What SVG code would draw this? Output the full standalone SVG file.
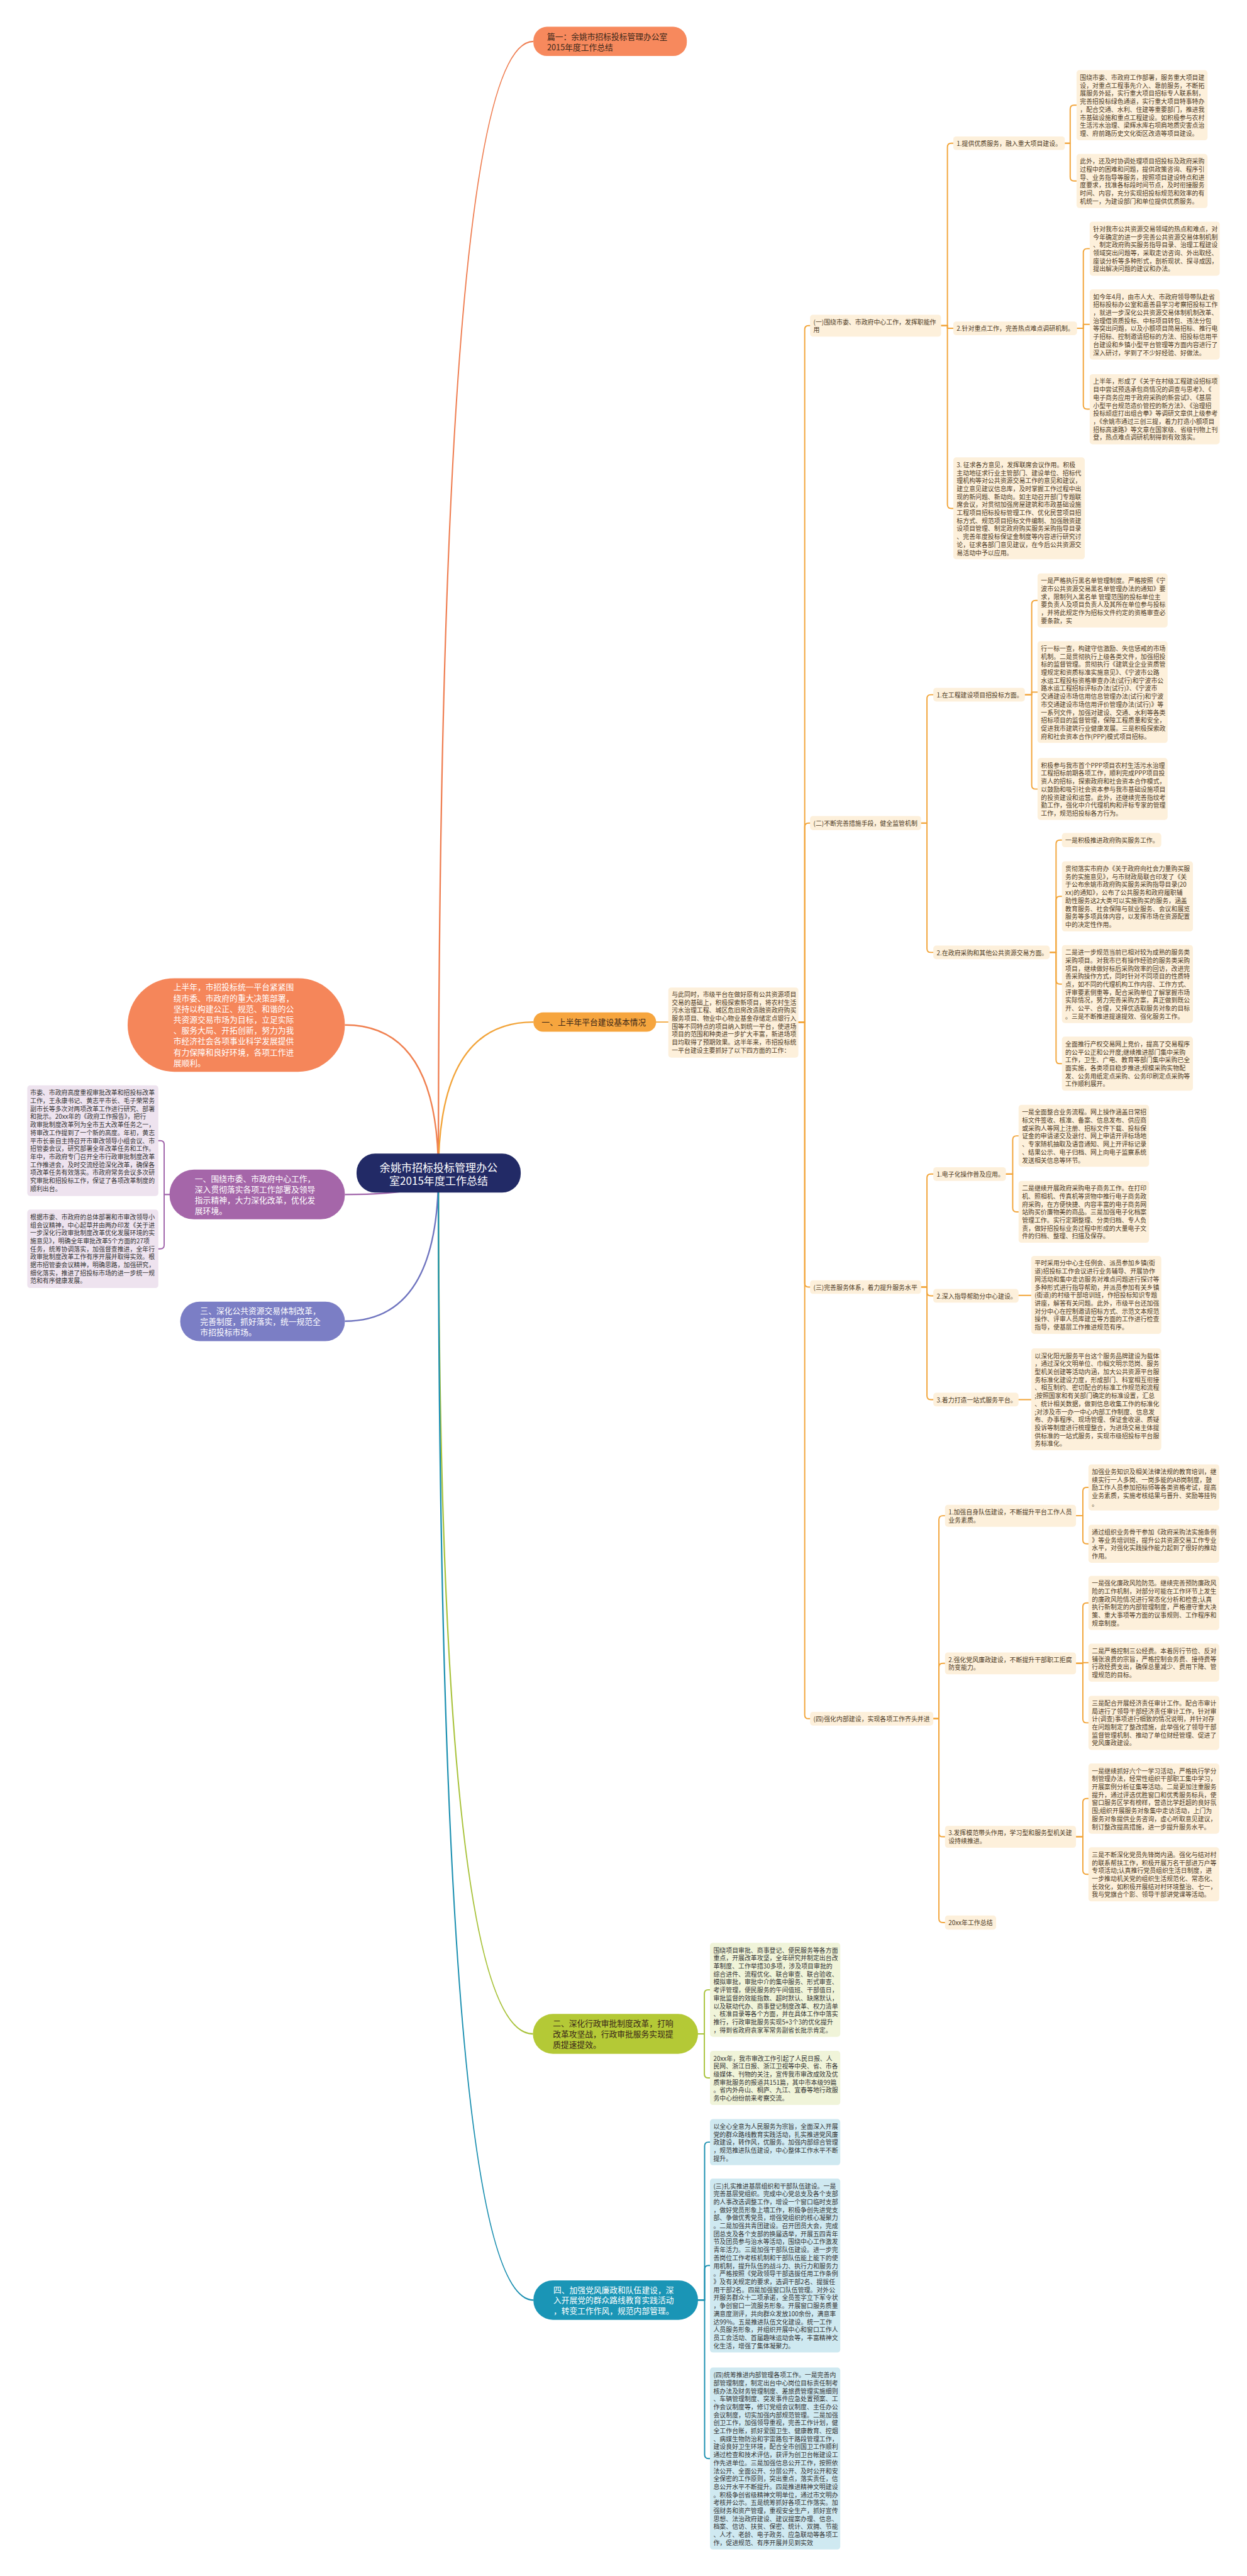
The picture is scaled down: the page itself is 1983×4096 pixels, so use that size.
<svg xmlns="http://www.w3.org/2000/svg" width="1983" height="4096" viewBox="0 0 1983 4096">
<style>
text{font-family:"Noto Sans CJK SC","Noto Sans",sans-serif}
.s{font-size:12.8px;fill:#4d3a24}
.d{font-size:12.8px;fill:#333}
.m{font-size:16.5px;fill:#3a2718}
.w{font-size:16.5px;fill:#fff}
.b{fill:#fdf0db}
.k{fill:#f0f4d9}
.l{fill:#cfe9f1}
.p{fill:#eee3ef}
.c{fill:none;stroke-width:2.5;stroke-linecap:round;stroke-linejoin:round}
.o{stroke:#f2a53a}
.cm{fill:none;stroke-width:3}
</style>
<rect width="1983" height="4096" fill="#fff"/>
<g transform="scale(0.77461)">
<g id="connectors">
<path class="cm" stroke="#ef7d50" d="M900 2408Q900 85 1095 85"/>
<path class="cm" stroke="#f2a43a" d="M900 2408Q900 2098 1095 2098"/>
<path class="cm" stroke="#f08050" d="M900 2408Q900 2104 708 2104"/>
<path class="cm" stroke="#a064aa" d="M900 2408Q900 2452 708 2452"/>
<path class="cm" stroke="#6f74bf" d="M900 2408Q900 2712 708 2712"/>
<path class="cm" stroke="#a8c23a" d="M900 2408Q900 4175 1094 4175"/>
<path class="cm" stroke="#1a8fb0" d="M900 2408Q900 4721.5 1095 4721.5"/>
<g class="c o">
<path d="M1347 2098H1372"/>
<path d="M1639 2098.5H1652V676.5Q1652 668.5 1660 668.5H1663"/>
<path d="M1639 2098.5H1652V1697.5Q1652 1689.5 1660 1689.5H1663"/>
<path d="M1639 2098.5H1652V2634Q1652 2642 1660 2642H1663"/>
<path d="M1639 2098.5H1652V3520Q1652 3528 1660 3528H1663"/>
<path d="M1932 668.5H1945V302Q1945 294 1953 294H1957"/>
<path d="M1932 668.5H1945V674H1957"/>
<path d="M1932 668.5H1945V1035.65Q1945 1043.65 1953 1043.65H1957"/>
<path d="M2186 294H2197V223.85Q2197 215.85 2205 215.85H2210"/>
<path d="M2186 294H2197V363.45Q2197 371.45 2205 371.45H2210"/>
<path d="M2211 674H2224V518.45Q2224 510.45 2232 510.45H2237"/>
<path d="M2211 674H2224V665.85H2237"/>
<path d="M2211 674H2224V831.85Q2224 839.85 2232 839.85H2237"/>
<path d="M1891 1689.5H1903V1434Q1903 1426 1911 1426H1916"/>
<path d="M1891 1689.5H1903V1947Q1903 1955 1911 1955H1916"/>
<path d="M2104 1426H2118V1240.45Q2118 1232.45 2126 1232.45H2130"/>
<path d="M2104 1426H2118V1420.65H2130"/>
<path d="M2104 1426H2118V1611.65Q2118 1619.65 2126 1619.65H2130"/>
<path d="M2155 1955H2168V1732.5Q2168 1724.5 2176 1724.5H2180"/>
<path d="M2155 1955H2168V1847.85Q2168 1839.85 2176 1839.85H2180"/>
<path d="M2155 1955H2168V2012.05Q2168 2020.05 2176 2020.05H2180"/>
<path d="M2155 1955H2168V2175.45Q2168 2183.45 2176 2183.45H2180"/>
<path d="M1891 2642H1903V2418Q1903 2410 1911 2410H1916"/>
<path d="M1891 2642H1903V2652Q1903 2660 1911 2660H1916"/>
<path d="M1891 2642H1903V2865Q1903 2873 1911 2873H1916"/>
<path d="M2065 2410H2079V2339.65Q2079 2331.65 2087 2331.65H2091"/>
<path d="M2065 2410H2079V2479.65Q2079 2487.65 2087 2487.65H2091"/>
<path d="M2091 2659H2117"/>
<path d="M2091 2873H2117"/>
<path d="M1916 3528H1927.5V3119.4Q1927.5 3111.4 1935.5 3111.4H1940"/>
<path d="M1916 3528H1927.5V3422.4Q1927.5 3414.4 1935.5 3414.4H1940"/>
<path d="M1916 3528H1927.5V3762.4Q1927.5 3770.4 1935.5 3770.4H1940"/>
<path d="M1916 3528H1927.5V3938.5Q1927.5 3946.5 1935.5 3946.5H1940"/>
<path d="M2209 3111.4H2223V3061.25Q2223 3053.25 2231 3053.25H2234.5"/>
<path d="M2209 3111.4H2223V3161.05Q2223 3169.05 2231 3169.05H2234.5"/>
<path d="M2209 3414.4H2223V3298.45Q2223 3290.45 2231 3290.45H2234.5"/>
<path d="M2209 3414.4H2223V3413.05H2234.5"/>
<path d="M2209 3414.4H2223V3528.45Q2223 3536.45 2231 3536.45H2234.5"/>
<path d="M2209 3770.4H2223V3699.85Q2223 3691.85 2231 3691.85H2234.5"/>
<path d="M2209 3770.4H2223V3839.45Q2223 3847.45 2231 3847.45H2234.5"/>
</g>
<g class="c" stroke="#a8c23a">
<path d="M1433 4175H1446V4092.45Q1446 4084.45 1454 4084.45H1457.5"/>
<path d="M1433 4175H1446V4257.45Q1446 4265.45 1454 4265.45H1457.5"/>
</g>
<g class="c" stroke="#1a8fb0">
<path d="M1433 4721.5H1446.5V4405.25Q1446.5 4397.25 1454.5 4397.25H1457.5"/>
<path d="M1433 4721.5H1446.5V4658.45Q1446.5 4650.45 1454.5 4650.45H1457.5"/>
<path d="M1433 4721.5H1446.5V5038.65Q1446.5 5046.65 1454.5 5046.65H1457.5"/>
</g>
<g class="c" stroke="#a064aa">
<path d="M348 2452H337V2349.4Q337 2341.4 329 2341.4H325"/>
<path d="M348 2452H337V2555.5Q337 2563.5 329 2563.5H325"/>
</g>
</g>

<g id="center"><rect x="732" y="2368" width="337" height="80" rx="38" fill="#222a66"/><text x="900.5" y="2405" text-anchor="middle" style="font-size:22px;fill:#fff">余姚市招标投标管理办公<tspan x="900.5" dy="27.3">室2015年度工作总结</tspan></text></g>

<g id="n-pian1"><rect x="1095" y="55" width="315" height="60" rx="28" fill="#f7895d"/><text class="m" x="1123" y="81.3">篇一：余姚市招标投标管理办公室<tspan x="1123" dy="22">2015年度工作总结</tspan></text></g>

<g id="n-left-intro"><rect x="262" y="2008" width="446" height="192" rx="96" fill="#f5865a"/><text class="w" x="356" y="2032.6">上半年，市招投标统一平台紧紧围<tspan x="356" dy="22.2">绕市委、市政府的重大决策部署，</tspan><tspan x="356" dy="22.2">坚持以构建公正、规范、和谐的公</tspan><tspan x="356" dy="22.2">共资源交易市场为目标，立足实际</tspan><tspan x="356" dy="22.2">、服务大局、开拓创新，努力为我</tspan><tspan x="356" dy="22.2">市经济社会各项事业科学发展提供</tspan><tspan x="356" dy="22.2">有力保障和良好环境，各项工作进</tspan><tspan x="356" dy="22.2">展顺利。</tspan></text></g>

<g id="n-purple"><rect x="348" y="2401" width="360" height="102" rx="50" fill="#a566a9"/><text class="w" x="400" y="2425.3">一、围绕市委、市政府中心工作，<tspan x="400" dy="22.2">深入贯彻落实各项工作部署及领导</tspan><tspan x="400" dy="22.2">指示精神，大力深化改革，优化发</tspan><tspan x="400" dy="22.2">展环境。</tspan></text></g>

<g id="n-p1"><rect class="p" x="56" y="2228" width="269" height="227" rx="6"/><text class="d" x="62" y="2248">市委、市政府高度重视审批改革和招投标改革<tspan x="62" dy="16.4">工作，王永康书记、黄志平市长、毛子荣常务</tspan><tspan x="62" dy="16.4">副市长等多次对两项改革工作进行研究、部署</tspan><tspan x="62" dy="16.4">和批示。20xx年的《政府工作报告》，把行</tspan><tspan x="62" dy="16.4">政审批制度改革列为全市五大改革任务之一，</tspan><tspan x="62" dy="16.4">将审改工作提到了一个新的高度。年初，黄志</tspan><tspan x="62" dy="16.4">平市长亲自主持召开市审改领导小组会议、市</tspan><tspan x="62" dy="16.4">招管委会议，研究部署全年改革任务和工作。</tspan><tspan x="62" dy="16.4">年中，市政府专门召开全市行政审批制度改革</tspan><tspan x="62" dy="16.4">工作推进会，及时交流经验深化改革，确保各</tspan><tspan x="62" dy="16.4">项改革任务有效落实。市政府常务会议多次研</tspan><tspan x="62" dy="16.4">究审批和招投标工作，保证了各项改革制度的</tspan><tspan x="62" dy="16.4">顺利出台。</tspan></text></g>

<g id="n-p2"><rect class="p" x="56" y="2483" width="269" height="161" rx="6"/><text class="d" x="62" y="2503">根据市委、市政府的总体部署和市审改领导小<tspan x="62" dy="16.4">组会议精神，中心起草并由两办印发《关于进</tspan><tspan x="62" dy="16.4">一步深化行政审批制度改革优化发展环境的实</tspan><tspan x="62" dy="16.4">施意见》，明确全年审批改革5个方面的27项</tspan><tspan x="62" dy="16.4">任务，统筹协调落实，加强督查推进，全年行</tspan><tspan x="62" dy="16.4">政审批制度改革工作有序开展并取得实效。根</tspan><tspan x="62" dy="16.4">据市招管委会议精神，明确思路，加强研究，</tspan><tspan x="62" dy="16.4">细化落实，推进了招投标市场的进一步统一规</tspan><tspan x="62" dy="16.4">范和有序健康发展。</tspan></text></g>

<g id="n-san"><rect x="370" y="2672" width="338" height="81" rx="40" fill="#7b7ec5"/><text class="w" x="411" y="2697">三、深化公共资源交易体制改革，<tspan x="411" dy="22">完善制度，抓好落实，统一规范全</tspan><tspan x="411" dy="22">市招投标市场。</tspan></text></g>

<g id="n-yi-platform"><rect x="1095" y="2078" width="252" height="40" rx="20" fill="#f6a53e"/><text class="m" x="1112" y="2104.3">一、上半年平台建设基本情况</text></g>

<g id="n-tongshi"><rect class="b" x="1372" y="2027" width="267" height="144" rx="6"/><text class="s" x="1379" y="2046">与此同时，市级平台在做好原有公共资源项目<tspan x="1379" dy="16.4">交易的基础上，积极探索新项目，将农村生活</tspan><tspan x="1379" dy="16.4">污水治理工程、城区危旧房改造融资政府购买</tspan><tspan x="1379" dy="16.4">服务项目、物业中心物业基金存储定点银行入</tspan><tspan x="1379" dy="16.4">围等不同特点的项目纳入到统一平台，使进场</tspan><tspan x="1379" dy="16.4">项目的范围和种类进一步扩大丰富，新进场项</tspan><tspan x="1379" dy="16.4">目均取得了预期效果。这半年来，市招投标统</tspan><tspan x="1379" dy="16.4">一平台建设主要抓好了以下四方面的工作：</tspan></text></g>

<g id="n-sub1"><rect class="b" x="1663" y="646" width="269" height="45" rx="6"/><text class="s" x="1670" y="665.5">(一)围绕市委、市政府中心工作，发挥职能作<tspan x="1670" dy="16.4">用</tspan></text></g>
<g id="n-1-1"><rect class="b" x="1957" y="280" width="229" height="28" rx="6"/><text class="s" x="1964" y="299.5">1.提供优质服务，融入重大项目建设。</text></g>
<g id="n-a1"><rect class="b" x="2210" y="144" width="269" height="144" rx="6"/><text class="s" x="2217" y="164">围绕市委、市政府工作部署，服务重大项目建<tspan x="2217" dy="16.4">设，对重点工程事先介入、靠前服务，不断拓</tspan><tspan x="2217" dy="16.4">展服务外延，实行重大项目招标专人联系制，</tspan><tspan x="2217" dy="16.4">完善招投标绿色通道，实行重大项目特事特办</tspan><tspan x="2217" dy="16.4">，配合交通、水利、住建等重要部门，推进我</tspan><tspan x="2217" dy="16.4">市基础设施和重点工程建设。如积极参与农村</tspan><tspan x="2217" dy="16.4">生活污水治理、梁辉水库右坝肩地质灾害点治</tspan><tspan x="2217" dy="16.4">理、府前路历史文化街区改造等项目建设。</tspan></text></g>
<g id="n-a2"><rect class="b" x="2210" y="316" width="269" height="111" rx="6"/><text class="s" x="2217" y="336">此外，还及时协调处理项目招投标及政府采购<tspan x="2217" dy="16.4">过程中的困难和问题，提供政策咨询、程序引</tspan><tspan x="2217" dy="16.4">导、业务指导等服务，按照项目建设特点和进</tspan><tspan x="2217" dy="16.4">度要求，找准各标段时间节点，及时衔接服务</tspan><tspan x="2217" dy="16.4">时间、内容，充分实现招投标规范和效率的有</tspan><tspan x="2217" dy="16.4">机统一，为建设部门和单位提供优质服务。</tspan></text></g>
<g id="n-1-2"><rect class="b" x="1957" y="660" width="254" height="28" rx="6"/><text class="s" x="1964" y="679.5">2.针对重点工作，完善热点难点调研机制。</text></g>
<g id="n-b1"><rect class="b" x="2237" y="455" width="267" height="111" rx="6"/><text class="s" x="2244" y="475">针对我市公共资源交易领域的热点和难点，对<tspan x="2244" dy="16.4">今年确定的进一步完善公共资源交易体制机制</tspan><tspan x="2244" dy="16.4">、制定政府购买服务指导目录、治理工程建设</tspan><tspan x="2244" dy="16.4">领域突出问题等，采取走访咨询、外出取经、</tspan><tspan x="2244" dy="16.4">座谈分析等多种形式，剖析现状、探寻成因，</tspan><tspan x="2244" dy="16.4">提出解决问题的建议和办法。</tspan></text></g>
<g id="n-b2"><rect class="b" x="2237" y="594" width="267" height="144" rx="6"/><text class="s" x="2244" y="614">如今年4月，由市人大、市政府领导带队赴省<tspan x="2244" dy="16.4">招标投标办公室和嘉善县学习考察招投标工作</tspan><tspan x="2244" dy="16.4">，就进一步深化公共资源交易体制机制改革、</tspan><tspan x="2244" dy="16.4">治理借资质投标、中标项目转包、违法分包</tspan><tspan x="2244" dy="16.4">等突出问题，以及小额项目简易招标、推行电</tspan><tspan x="2244" dy="16.4">子招标、控制邀请招标的方法、招投标信用平</tspan><tspan x="2244" dy="16.4">台建设和乡镇小型平台管理等方面内容进行了</tspan><tspan x="2244" dy="16.4">深入研讨，学到了不少好经验、好做法。</tspan></text></g>
<g id="n-b3"><rect class="b" x="2237" y="768" width="267" height="144" rx="6"/><text class="s" x="2244" y="788">上半年，形成了《关于在村级工程建设招标项<tspan x="2244" dy="16.4">目中尝试预选承包商情况的调查与思考》、《</tspan><tspan x="2244" dy="16.4">电子商务应用于政府采购的新尝试》、《基层</tspan><tspan x="2244" dy="16.4">小型平台规范造价管控的新方法》、《治理招</tspan><tspan x="2244" dy="16.4">投标顽症打出组合拳》等调研文章供上级参考</tspan><tspan x="2244" dy="16.4">，《余姚市通过三创三提，着力打造小额项目</tspan><tspan x="2244" dy="16.4">招标高速路》等文章在国家级、省级刊物上刊</tspan><tspan x="2244" dy="16.4">登，热点难点调研机制得到有效落实。</tspan></text></g>
<g id="n-1-3"><rect class="b" x="1957" y="939" width="270" height="209" rx="6"/><text class="s" x="1964" y="959">3. 征求各方意见，发挥联席会议作用。积极<tspan x="1964" dy="16.4">主动地征求行业主管部门、建设单位、招标代</tspan><tspan x="1964" dy="16.4">理机构等对公共资源交易工作的意见和建议，</tspan><tspan x="1964" dy="16.4">建立意见建议信息库，及时掌握工作过程中出</tspan><tspan x="1964" dy="16.4">现的新问题、新动向。如主动召开部门专题联</tspan><tspan x="1964" dy="16.4">席会议，对贯彻加强房屋建筑和市政基础设施</tspan><tspan x="1964" dy="16.4">工程项目招标投标管理工作、优化民营项目招</tspan><tspan x="1964" dy="16.4">标方式、规范项目招标文件编制、加强融资建</tspan><tspan x="1964" dy="16.4">设项目管理、制定政府购买服务采购指导目录</tspan><tspan x="1964" dy="16.4">、完善年度投标保证金制度等内容进行研究讨</tspan><tspan x="1964" dy="16.4">论，征求各部门意见建议，在今后公共资源交</tspan><tspan x="1964" dy="16.4">易活动中予以应用。</tspan></text></g>

<g id="n-sub2"><rect class="b" x="1663" y="1675" width="228" height="29" rx="6"/><text class="s" x="1670" y="1694.5">(二)不断完善措施手段，健全监管机制</text></g>
<g id="n-2-1"><rect class="b" x="1916" y="1412" width="188" height="28" rx="6"/><text class="s" x="1923" y="1431.5">1.在工程建设项目招投标方面。</text></g>
<g id="n-c1"><rect class="b" x="2130" y="1177" width="267" height="111" rx="6"/><text class="s" x="2137" y="1197">一是严格执行黑名单管理制度。严格按照《宁<tspan x="2137" dy="16.4">波市公共资源交易黑名单管理办法的通知》要</tspan><tspan x="2137" dy="16.4">求，限制列入黑名单 管理范围的投标单位主</tspan><tspan x="2137" dy="16.4">要负责人及项目负责人及其所在单位参与投标</tspan><tspan x="2137" dy="16.4">，并将此规定作为招标文件约定的资格审查必</tspan><tspan x="2137" dy="16.4">要条款，实</tspan></text></g>
<g id="n-c2"><rect class="b" x="2130" y="1316" width="267" height="209" rx="6"/><text class="s" x="2137" y="1336">行一标一查，构建守信激励、失信惩戒的市场<tspan x="2137" dy="16.4">机制。二是贯彻执行上级各类文件，加强招投</tspan><tspan x="2137" dy="16.4">标的监督管理。贯彻执行《建筑业企业资质管</tspan><tspan x="2137" dy="16.4">理规定和资质标准实施意见》、《宁波市公路</tspan><tspan x="2137" dy="16.4">水运工程投标资格审查办法(试行)和宁波市公</tspan><tspan x="2137" dy="16.4">路水运工程招标评标办法(试行)》、《宁波市</tspan><tspan x="2137" dy="16.4">交通建设市场信用信息管理办法(试行)和宁波</tspan><tspan x="2137" dy="16.4">市交通建设市场信用评价管理办法(试行)》等</tspan><tspan x="2137" dy="16.4">一系列文件，加强对建设、交通、水利等各类</tspan><tspan x="2137" dy="16.4">招标项目的监督管理，保障工程质量和安全，</tspan><tspan x="2137" dy="16.4">促进我市建筑行业健康发展。三是积极探索政</tspan><tspan x="2137" dy="16.4">府和社会资本合作(PPP)模式项目招标。</tspan></text></g>
<g id="n-c3"><rect class="b" x="2130" y="1556" width="267" height="127" rx="6"/><text class="s" x="2137" y="1576">积极参与我市首个PPP项目农村生活污水治理<tspan x="2137" dy="16.4">工程招标前期各项工作，顺利完成PPP项目投</tspan><tspan x="2137" dy="16.4">资人的招标，探索政府和社会资本合作模式，</tspan><tspan x="2137" dy="16.4">以鼓励和吸引社会资本参与我市基础设施项目</tspan><tspan x="2137" dy="16.4">的投资建设和运营。此外，还继续完善指纹考</tspan><tspan x="2137" dy="16.4">勤工作，强化中介代理机构和评标专家的管理</tspan><tspan x="2137" dy="16.4">工作，规范招投标各方行为。</tspan></text></g>
<g id="n-2-2"><rect class="b" x="1916" y="1941" width="239" height="28" rx="6"/><text class="s" x="1923" y="1960.5">2.在政府采购和其他公共资源交易方面。</text></g>
<g id="n-d1"><rect class="b" x="2180" y="1710" width="204" height="29" rx="6"/><text class="s" x="2187" y="1729.5">一是积极推进政府购买服务工作。</text></g>
<g id="n-d2"><rect class="b" x="2180" y="1768" width="269" height="144" rx="6"/><text class="s" x="2187" y="1788">贯彻落实市府办《关于政府向社会力量购买服<tspan x="2187" dy="16.4">务的实施意见》，与市财政局联合印发了《关</tspan><tspan x="2187" dy="16.4">于公布余姚市政府购买服务采购指导目录(20</tspan><tspan x="2187" dy="16.4">xx)的通知》，公布了公共服务和政府履职辅</tspan><tspan x="2187" dy="16.4">助性服务这2大类可以实施购买的服务，涵盖</tspan><tspan x="2187" dy="16.4">教育服务、社会保障与就业服务、会议和展览</tspan><tspan x="2187" dy="16.4">服务等多项具体内容，以发挥市场在资源配置</tspan><tspan x="2187" dy="16.4">中的决定性作用。</tspan></text></g>
<g id="n-d3"><rect class="b" x="2180" y="1940" width="269" height="160" rx="6"/><text class="s" x="2187" y="1960">二是进一步规范当前已相对较为成熟的服务类<tspan x="2187" dy="16.4">采购项目。对我市已有操作经验的服务类采购</tspan><tspan x="2187" dy="16.4">项目，继续做好标后采购效率的回访，改进完</tspan><tspan x="2187" dy="16.4">善采购操作方式，同时针对不同项目的性质特</tspan><tspan x="2187" dy="16.4">点，如不同的代理机构工作内容、工作方式、</tspan><tspan x="2187" dy="16.4">评审要素侧重等，配合采购单位了解掌握市场</tspan><tspan x="2187" dy="16.4">实际情况，努力完善采购方案，真正做到既公</tspan><tspan x="2187" dy="16.4">开、公平、合理，又择优选取服务对象的目标</tspan><tspan x="2187" dy="16.4">。三是不断推进提速提效、强化服务工作。</tspan></text></g>
<g id="n-d4"><rect class="b" x="2180" y="2128" width="269" height="111" rx="6"/><text class="s" x="2187" y="2148">全面推行产权交易网上竞价，提高了交易程序<tspan x="2187" dy="16.4">的公平公正和公开度;继续推进部门集中采购</tspan><tspan x="2187" dy="16.4">工作，卫生、广电、教育等部门集中采购已全</tspan><tspan x="2187" dy="16.4">面实施，各类项目稳步推进;规模采购实物配</tspan><tspan x="2187" dy="16.4">发、公务用纸定点采购、公务印刷定点采购等</tspan><tspan x="2187" dy="16.4">工作顺利展开。</tspan></text></g>

<g id="n-sub3"><rect class="b" x="1663" y="2628" width="228" height="28" rx="6"/><text class="s" x="1670" y="2647.5">(三)完善服务体系，着力提升服务水平</text></g>
<g id="n-3-1"><rect class="b" x="1916" y="2396" width="149" height="28" rx="6"/><text class="s" x="1923" y="2415.5">1.电子化操作普及应用。</text></g>
<g id="n-e1"><rect class="b" x="2091" y="2268" width="268" height="127" rx="6"/><text class="s" x="2098" y="2288">一是全面整合业务流程。网上操作涵盖日常招<tspan x="2098" dy="16.4">标文件签收、核准、备案、信息发布、供应商</tspan><tspan x="2098" dy="16.4">或采购人等网上注册、招标文件下载、投标保</tspan><tspan x="2098" dy="16.4">证金的申请递交及退付、网上申请开评标场地</tspan><tspan x="2098" dy="16.4">、专家随机抽取及语音通知、网上开评标记录</tspan><tspan x="2098" dy="16.4">、结果公示、电子归档、网上向电子监察系统</tspan><tspan x="2098" dy="16.4">发送相关信息等环节。</tspan></text></g>
<g id="n-e2"><rect class="b" x="2091" y="2424" width="268" height="127" rx="6"/><text class="s" x="2098" y="2444">二是继续开展政府采购电子商务工作。在打印<tspan x="2098" dy="16.4">机、照相机、传真机等货物中推行电子商务政</tspan><tspan x="2098" dy="16.4">府采购，在方便快捷、内容丰富的电子商务网</tspan><tspan x="2098" dy="16.4">站购买价廉物美的商品。三是加强电子化档案</tspan><tspan x="2098" dy="16.4">管理工作。实行定期整理、分类归档、专人负</tspan><tspan x="2098" dy="16.4">责，做好招投标业务过程中形成的大量电子文</tspan><tspan x="2098" dy="16.4">件的归档、整理、扫描及保存。</tspan></text></g>
<g id="n-3-2"><rect class="b" x="1916" y="2646" width="175" height="28" rx="6"/><text class="s" x="1923" y="2665.5">2.深入指导帮助分中心建设。</text></g>
<g id="n-f1"><rect class="b" x="2117" y="2578" width="267" height="160" rx="6"/><text class="s" x="2124" y="2598">平时采用分中心主任例会、派员参加乡镇(街<tspan x="2124" dy="16.4">道)招投标工作会议进行业务辅导、开展协作</tspan><tspan x="2124" dy="16.4">网活动和集中走访服务对难点问题进行探讨等</tspan><tspan x="2124" dy="16.4">多种形式进行指导帮助，并派员参加有关乡镇</tspan><tspan x="2124" dy="16.4">(街道)的村级干部培训班，作招投标知识专题</tspan><tspan x="2124" dy="16.4">讲座，解答有关问题。此外，市级平台还加强</tspan><tspan x="2124" dy="16.4">对分中心在控制邀请招标方式、示范文本规范</tspan><tspan x="2124" dy="16.4">操作、评审人员库建立等方面的工作进行检查</tspan><tspan x="2124" dy="16.4">指导，使基层工作推进规范有序。</tspan></text></g>
<g id="n-3-3"><rect class="b" x="1916" y="2859" width="175" height="28" rx="6"/><text class="s" x="1923" y="2878.5">3.着力打造一站式服务平台。</text></g>
<g id="n-g1"><rect class="b" x="2117" y="2768" width="267" height="209" rx="6"/><text class="s" x="2124" y="2788">以深化阳光服务平台这个服务品牌建设为载体<tspan x="2124" dy="16.4">，通过深化文明单位、巾帼文明示范岗、服务</tspan><tspan x="2124" dy="16.4">型机关创建等活动内涵，加大公共资源平台服</tspan><tspan x="2124" dy="16.4">务标准化建设力度，形成部门、科室相互衔接</tspan><tspan x="2124" dy="16.4">、相互制约、密切配合的标准工作规范和流程</tspan><tspan x="2124" dy="16.4">;按照国家和有关部门确定的标准设置，汇总</tspan><tspan x="2124" dy="16.4">、统计相关数据，做到信息收集工作的标准化</tspan><tspan x="2124" dy="16.4">;对涉及市一办一中心内部工作制度、信息发</tspan><tspan x="2124" dy="16.4">布、办事程序、现场管理、保证金收退、质疑</tspan><tspan x="2124" dy="16.4">投诉等制度进行梳理整合，为进场交易主体提</tspan><tspan x="2124" dy="16.4">供标准的一站式服务，实现市级招投标平台服</tspan><tspan x="2124" dy="16.4">务标准化。</tspan></text></g>

<g id="n-sub4"><rect class="b" x="1663" y="3514" width="253" height="28" rx="6"/><text class="s" x="1670" y="3533.5">(四)强化内部建设，实现各项工作齐头并进</text></g>
<g id="n-4-1"><rect class="b" x="1940" y="3089" width="269" height="45" rx="6"/><text class="s" x="1947" y="3108.5">1.加强自身队伍建设，不断提升平台工作人员<tspan x="1947" dy="16.4">业务素质。</tspan></text></g>
<g id="n-h1"><rect class="b" x="2234.5" y="3006" width="268.5" height="94.5" rx="6"/><text class="s" x="2241.5" y="3026">加强业务知识及相关法律法规的教育培训，继<tspan x="2241.5" dy="16.4">续实行一人多岗、一岗多能的AB岗制度，鼓</tspan><tspan x="2241.5" dy="16.4">励工作人员参加招标师等各类资格考试，提高</tspan><tspan x="2241.5" dy="16.4">业务素质，实施考核结果与晋升、奖励等挂钩</tspan><tspan x="2241.5" dy="16.4">。</tspan></text></g>
<g id="n-h2"><rect class="b" x="2234.5" y="3130" width="268.5" height="78" rx="6"/><text class="s" x="2241.5" y="3150">通过组织业务骨干参加《政府采购法实施条例<tspan x="2241.5" dy="16.4">》等业务培训班，提升公共资源交易工作专业</tspan><tspan x="2241.5" dy="16.4">水平，对强化实践操作能力起到了很好的推动</tspan><tspan x="2241.5" dy="16.4">作用。</tspan></text></g>
<g id="n-4-2"><rect class="b" x="1940" y="3392" width="269" height="45" rx="6"/><text class="s" x="1947" y="3411.5">2.强化党风廉政建设，不断提升干部职工拒腐<tspan x="1947" dy="16.4">防变能力。</tspan></text></g>
<g id="n-i1"><rect class="b" x="2234.5" y="3235" width="268.5" height="111" rx="6"/><text class="s" x="2241.5" y="3255">一是强化廉政风险防范。继续完善预防廉政风<tspan x="2241.5" dy="16.4">险的工作机制，对部分可能在工作环节上发生</tspan><tspan x="2241.5" dy="16.4">的廉政风险情况进行常态化分析和检查;认真</tspan><tspan x="2241.5" dy="16.4">执行新制定的内部管理制度，严格遵守重大决</tspan><tspan x="2241.5" dy="16.4">策、重大事项等方面的议事规则、工作程序和</tspan><tspan x="2241.5" dy="16.4">规章制度。</tspan></text></g>
<g id="n-i2"><rect class="b" x="2234.5" y="3374" width="268.5" height="78" rx="6"/><text class="s" x="2241.5" y="3394">二是严格控制三公经费。本着厉行节俭、反对<tspan x="2241.5" dy="16.4">铺张浪费的宗旨，严格控制会务费、接待费等</tspan><tspan x="2241.5" dy="16.4">行政经费支出，确保总量减少、费用下降、管</tspan><tspan x="2241.5" dy="16.4">理规范的目标。</tspan></text></g>
<g id="n-i3"><rect class="b" x="2234.5" y="3481" width="268.5" height="111" rx="6"/><text class="s" x="2241.5" y="3501">三是配合开展经济责任审计工作。配合市审计<tspan x="2241.5" dy="16.4">局进行了领导干部经济责任审计工作，针对审</tspan><tspan x="2241.5" dy="16.4">计(调查)事项进行细致的情况说明，并针对存</tspan><tspan x="2241.5" dy="16.4">在问题制定了整改措施，此举强化了领导干部</tspan><tspan x="2241.5" dy="16.4">监督管理机制、推动了单位财经管理、促进了</tspan><tspan x="2241.5" dy="16.4">党风廉政建设。</tspan></text></g>
<g id="n-4-3"><rect class="b" x="1940" y="3748" width="269" height="45" rx="6"/><text class="s" x="1947" y="3767.5">3.发挥模范带头作用，学习型和服务型机关建<tspan x="1947" dy="16.4">设持续推进。</tspan></text></g>
<g id="n-j1"><rect class="b" x="2234.5" y="3620" width="268.5" height="144" rx="6"/><text class="s" x="2241.5" y="3640">一是继续抓好六个一学习活动，严格执行学分<tspan x="2241.5" dy="16.4">制管理办法，经常性组织干部职工集中学习，</tspan><tspan x="2241.5" dy="16.4">开展案例分析征集等活动。二是更加注重服务</tspan><tspan x="2241.5" dy="16.4">提升，通过评选优胜窗口和优秀服务标兵，使</tspan><tspan x="2241.5" dy="16.4">窗口服务区学有榜样，营造比学赶超的良好氛</tspan><tspan x="2241.5" dy="16.4">围;组织开展服务对象集中走访活动，上门为</tspan><tspan x="2241.5" dy="16.4">服务对象提供业务咨询，虚心听取意见建议，</tspan><tspan x="2241.5" dy="16.4">制订整改提高措施，进一步提升服务水平。</tspan></text></g>
<g id="n-j2"><rect class="b" x="2234.5" y="3792" width="268.5" height="111" rx="6"/><text class="s" x="2241.5" y="3812">三是不断深化党员先锋岗内涵。强化与结对村<tspan x="2241.5" dy="16.4">的联系帮扶工作，积极开展万名干部进万户等</tspan><tspan x="2241.5" dy="16.4">专项活动;认真推行党员组织生活日制度，进</tspan><tspan x="2241.5" dy="16.4">一步推动机关党的组织生活规范化、常态化、</tspan><tspan x="2241.5" dy="16.4">长效化，如积极开展结对村环境整治、七一，</tspan><tspan x="2241.5" dy="16.4">我与党旗合个影、领导干部讲党课等活动。</tspan></text></g>
<g id="n-4-4"><rect class="b" x="1940" y="3932" width="105" height="29" rx="6"/><text class="s" x="1947" y="3951.5">20xx年工作总结</text></g>

<g id="n-er"><rect x="1094" y="4134" width="339" height="82" rx="41" fill="#b4c936"/><text class="m" x="1135" y="4159.3">二、深化行政审批制度改革，打响<tspan x="1135" dy="22.2">改革攻坚战，行政审批服务实现提</tspan><tspan x="1135" dy="22.2">质提速提效。</tspan></text></g>
<g id="n-k1"><rect class="k" x="1457.5" y="3988" width="267.5" height="193" rx="6"/><text class="d" x="1464.5" y="4008">围绕项目审批、商事登记、便民服务等各方面<tspan x="1464.5" dy="16.4">重点，开展改革攻坚，全年研究并制定出台改</tspan><tspan x="1464.5" dy="16.4">革制度、工作举措30多项，涉及项目审批的</tspan><tspan x="1464.5" dy="16.4">综合进件、流程优化、联合审查、联合验收、</tspan><tspan x="1464.5" dy="16.4">模拟审批，审批中介的集中服务、形式审查、</tspan><tspan x="1464.5" dy="16.4">考评管理，便民服务的午间值班、干部值日，</tspan><tspan x="1464.5" dy="16.4">审批监督的效能指数、超时默认、缺席默认，</tspan><tspan x="1464.5" dy="16.4">以及联动代办、商事登记制度改革、权力清单</tspan><tspan x="1464.5" dy="16.4">、核准目录等各个方面，并在具体工作中落实</tspan><tspan x="1464.5" dy="16.4">推行，行政审批服务实现5+3个3的优化提升</tspan><tspan x="1464.5" dy="16.4">，得到省政府袁家军常务副省长批示肯定。</tspan></text></g>
<g id="n-k2"><rect class="k" x="1457.5" y="4210" width="267.5" height="111" rx="6"/><text class="d" x="1464.5" y="4230">20xx年，我市审改工作引起了人民日报、人<tspan x="1464.5" dy="16.4">民网、浙江日报、浙江卫视等中央、省、市各</tspan><tspan x="1464.5" dy="16.4">级媒体、刊物的关注，宣传我市审改成效及优</tspan><tspan x="1464.5" dy="16.4">质审批服务的报道共151篇，其中市本级99篇</tspan><tspan x="1464.5" dy="16.4">。省内外舟山、桐庐、九江、宜春等地行政服</tspan><tspan x="1464.5" dy="16.4">务中心纷纷前来考察交流。</tspan></text></g>

<g id="n-si"><rect x="1095" y="4681" width="338" height="81" rx="40" fill="#1a95b6"/><text class="w" x="1136" y="4706.3">四、加强党风廉政和队伍建设，深<tspan x="1136" dy="21.7">入开展党的群众路线教育实践活动</tspan><tspan x="1136" dy="21.7">，转变工作作风，规范内部管理。</tspan></text></g>
<g id="n-l1"><rect class="l" x="1457.5" y="4350" width="267.5" height="94.5" rx="6"/><text class="d" x="1464.5" y="4370">以全心全意为人民服务为宗旨，全面深入开展<tspan x="1464.5" dy="16.4">党的群众路线教育实践活动，扎实推进党风廉</tspan><tspan x="1464.5" dy="16.4">政建设，转作风，优服务。加强内部综合管理</tspan><tspan x="1464.5" dy="16.4">，规范推进队伍建设，中心整体工作水平不断</tspan><tspan x="1464.5" dy="16.4">提升。</tspan></text></g>
<g id="n-l2"><rect class="l" x="1457.5" y="4472" width="267.5" height="357" rx="6"/><text class="d" x="1464.5" y="4492">(三)扎实推进基层组织和干部队伍建设。一是<tspan x="1464.5" dy="16.4">完善基层党组织。完成中心党总支及各个支部</tspan><tspan x="1464.5" dy="16.4">的人事改选调整工作，增设一个窗口临时支部</tspan><tspan x="1464.5" dy="16.4">，做好党员形象上墙工作，积极争创先进党支</tspan><tspan x="1464.5" dy="16.4">部、争做优秀党员，增强党组织的核心凝聚力</tspan><tspan x="1464.5" dy="16.4">。二是加强共青团建设。召开团员大会，完成</tspan><tspan x="1464.5" dy="16.4">团总支及各个支部的换届选举，开展五四青年</tspan><tspan x="1464.5" dy="16.4">节及团员参与治水等活动，围绕中心工作激发</tspan><tspan x="1464.5" dy="16.4">青年活力。三是加强干部队伍建设。进一步完</tspan><tspan x="1464.5" dy="16.4">善岗位工作考核机制和干部队伍能上能下的使</tspan><tspan x="1464.5" dy="16.4">用机制，提升队伍的战斗力、执行力和服务力</tspan><tspan x="1464.5" dy="16.4">。严格按照《党政领导干部选拔任用工作条例</tspan><tspan x="1464.5" dy="16.4">》及有关规定的要求，选调干部2名、提拔任</tspan><tspan x="1464.5" dy="16.4">用干部2名。四是加强窗口队伍管理。对外公</tspan><tspan x="1464.5" dy="16.4">开服务群众十二项承诺，全员签字立下军令状</tspan><tspan x="1464.5" dy="16.4">，争创窗口一流服务形象。开展窗口服务质量</tspan><tspan x="1464.5" dy="16.4">满意度测评，共向群众发放100余份，满意率</tspan><tspan x="1464.5" dy="16.4">达99%。五是推进队伍文化建设。统一工作</tspan><tspan x="1464.5" dy="16.4">人员服务形象，并组织开展中心和窗口工作人</tspan><tspan x="1464.5" dy="16.4">员工会活动、首届趣味运动会等，丰富精神文</tspan><tspan x="1464.5" dy="16.4">化生活，增强了集体凝聚力。</tspan></text></g>
<g id="n-l3"><rect class="l" x="1457.5" y="4860" width="267.5" height="373.3" rx="6"/><text class="d" x="1464.5" y="4880">(四)统筹推进内部管理各项工作。一是完善内<tspan x="1464.5" dy="16.4">部管理制度，制定出台中心岗位目标责任制考</tspan><tspan x="1464.5" dy="16.4">核办法及财务管理制度、差旅费管理实施细则</tspan><tspan x="1464.5" dy="16.4">、车辆管理制度、突发事件应急处置预案、工</tspan><tspan x="1464.5" dy="16.4">作会议制度等，修订党组会议制度、主任办公</tspan><tspan x="1464.5" dy="16.4">会议制度，切实加强内部规范管理。二是加强</tspan><tspan x="1464.5" dy="16.4">创卫工作，加强领导重视，完善工作计划，健</tspan><tspan x="1464.5" dy="16.4">全工作台账，抓好爱国卫生、健康教育、控烟</tspan><tspan x="1464.5" dy="16.4">、病媒生物防治和宇雷路包干路段管理工作，</tspan><tspan x="1464.5" dy="16.4">建设良好卫生环境，配合全市创国卫工作顺利</tspan><tspan x="1464.5" dy="16.4">通过检查和技术评估，获评为创卫台帐建设工</tspan><tspan x="1464.5" dy="16.4">作先进单位。三是加强信息公开工作，按照依</tspan><tspan x="1464.5" dy="16.4">法公开、全面公开、分层公开、及时公开和安</tspan><tspan x="1464.5" dy="16.4">全保密的工作原则，突出重点，落实责任，信</tspan><tspan x="1464.5" dy="16.4">息公开水平不断提升。四是推进精神文明建设</tspan><tspan x="1464.5" dy="16.4">。积极争创省级精神文明单位，通过市文明办</tspan><tspan x="1464.5" dy="16.4">考核并公示。五是统筹抓好各项工作落实。加</tspan><tspan x="1464.5" dy="16.4">强财务和资产管理，重视安全生产，抓好宣传</tspan><tspan x="1464.5" dy="16.4">思想、法治政府建设、建议提案办理、信息、</tspan><tspan x="1464.5" dy="16.4">档案、信访、扶贫、保密、统计、双拥、节能</tspan><tspan x="1464.5" dy="16.4">、人才、老龄、电子政务、应急联动等各项工</tspan><tspan x="1464.5" dy="16.4">作，促进规范、有序开展并见到实效</tspan></text></g>
</g>
</svg>
